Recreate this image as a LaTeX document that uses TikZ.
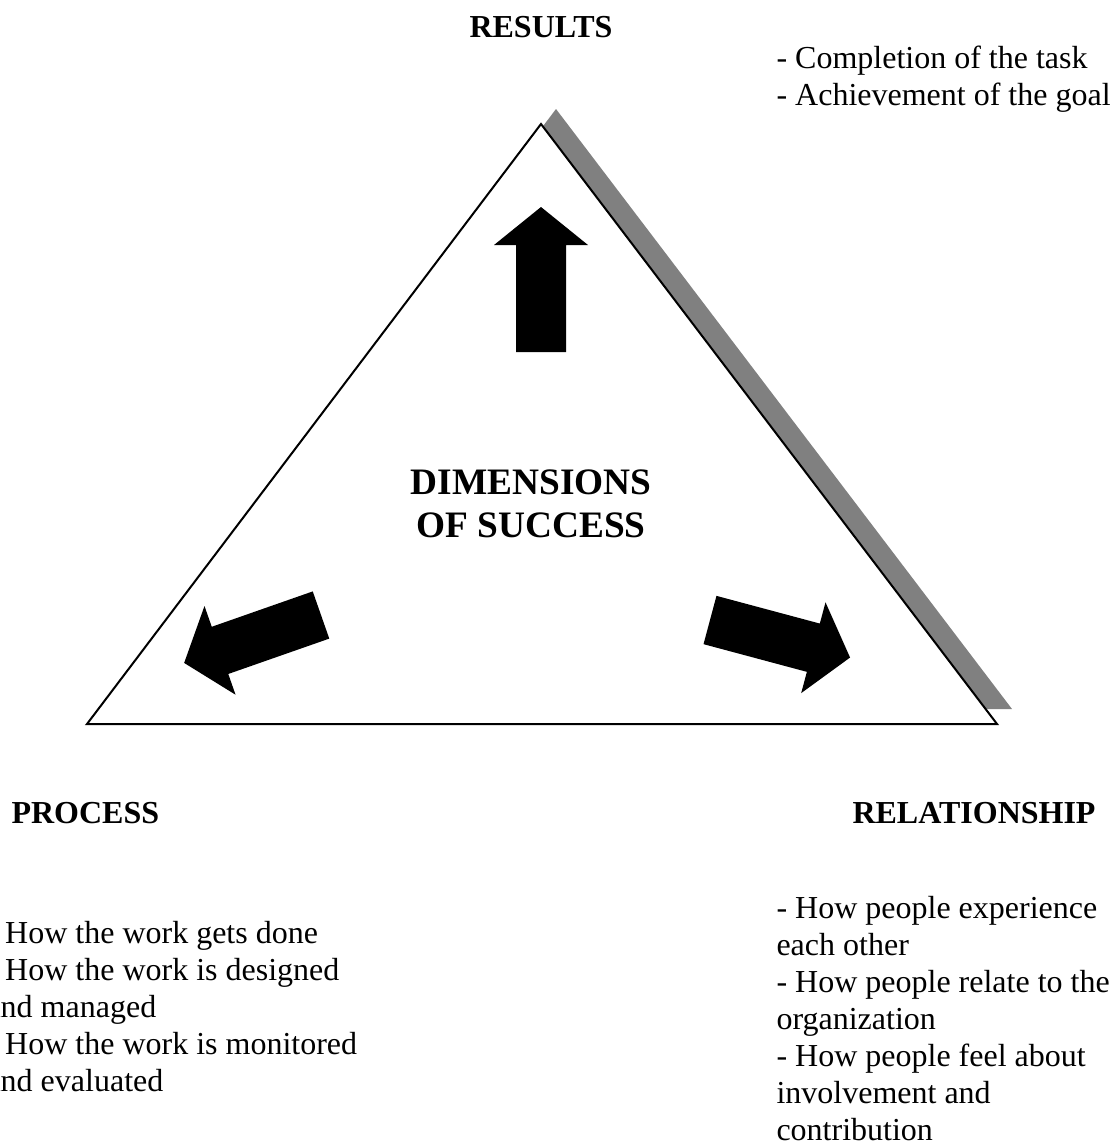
\documentclass[tikz,border=0pt]{standalone}
\usepackage{fontspec}
\setmainfont{Liberation Serif}
\tikzset{
  fatarrow/.pic={\fill (0,-25) -- (107,-25) -- (107,-47) -- (145,0) -- (107,47) -- (107,25) -- (0,25) -- cycle;},
  bodytext/.style={anchor=base west, inner sep=0pt, font=\fontsize{12}{13.8}\selectfont},
  headtext/.style={anchor=base west, inner sep=0pt, font=\fontsize{12}{13.8}\selectfont\bfseries}
}
\begin{document}
\begin{tikzpicture}[x=0.375pt,y=-0.375pt]
\useasboundingbox (0,0) rectangle (1119,1144);
\begin{scope}
\clip (0,0) rectangle (1119,1144);
% triangle with its shadow
\fill[black!50] (556,109) -- (1012,709) -- (102,709) -- cycle;
\draw[line width=0.75pt, fill=white] (541,124) -- (997,724) -- (87,724) -- cycle;
\pic[rotate=90] at (541,352) {fatarrow};
\pic[rotate=199.3] at (321,615) {fatarrow};
\pic[rotate=-15] at (710,620) {fatarrow};
\node[font=\fontsize{14}{16.1}\selectfont\bfseries, align=center, inner sep=0pt] (dim) at (531,504) {DIMENSIONS\\OF SUCCESS};

\node[headtext, anchor=base] (results) at (541,37) {RESULTS};
\node[bodytext] (res1) at (776,68) {- Completion of the task};
\node[bodytext] (res2) at (776,105) {- Achievement of the goal};

\node[headtext] (process) at (11,823) {PROCESS};
\foreach \txt [count=\i] in {- How the work gets done, - How the work is designed, and managed, - How the work is monitored, and evaluated}
  \node[bodytext] (proc\i) at (-14,906+37*\i) {\txt};

\node[headtext] (relationship) at (852,823) {RELATIONSHIP};
\foreach \txt [count=\i] in {- How people experience, each other, - How people relate to the, organization, - How people feel about, involvement and, contribution}
  \node[bodytext] (rel\i) at (776,881+37*\i) {\txt};
\end{scope}
\end{tikzpicture}
\end{document}
